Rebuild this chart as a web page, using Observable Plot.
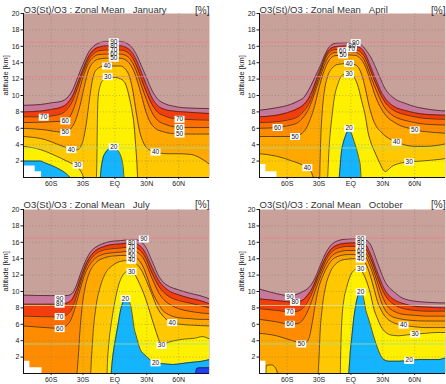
<!DOCTYPE html>
<html><head><meta charset="utf-8">
<script src="https://cdn.jsdelivr.net/npm/d3@7"></script>
<script src="https://cdn.jsdelivr.net/npm/@observablehq/plot@0.6"></script>
<style>
body{margin:0;background:#fff;width:446px;height:384px;position:relative;overflow:hidden;font-family:"Liberation Sans",Arial,sans-serif}
.panel{position:absolute;width:223px;height:192px}
</style></head><body>
<div id="p0" class="panel" style="left:0;top:0"></div>
<div id="p1" class="panel" style="left:223px;top:0"></div>
<div id="p2" class="panel" style="left:0;top:192px"></div>
<div id="p3" class="panel" style="left:223px;top:192px"></div>
<script>
// ---- axes / categories ----
const latTicks = [-60, -30, 0, 30, 60];
const latTickLabels = ["60S", "30S", "EQ", "30N", "60N"];
const altTicks = [2, 4, 6, 8, 10, 12, 14, 16, 18, 20];
const levelValues = [90, 80, 70, 60, 50, 40, 30, 20, 10];
const bandColors = ["#c8789b", "#f53c0c", "#ff6e00", "#ff8c00", "#ffa800", "#ffc800", "#fff000", "#14b4ff", "#1e40ff"];
const topColor = "#c9a19b";
const monthNames = ["January", "April", "July", "October"];

// ---- contour altitudes [latitude, km] : January ----
const jan90 = [[-86,8.8],[-70,8.9],[-60,9.1],[-50,9.3],[-45,9.7],[-40,10.6],[-35,12.2],[-30,13.8],[-25,15.2],[-20,16.0],[-15,16.4],[-8,16.6],[5,16.6],[12,16.3],[17,15.7],[21,14.8],[25,13.6],[30,12.1],[35,10.6],[40,9.6],[47,9.0],[55,8.7],[65,8.5],[89,8.4]];
const jan80 = [[-86,8.0],[-70,8.1],[-60,8.3],[-50,8.6],[-45,9.0],[-40,9.9],[-35,11.5],[-30,13.2],[-25,14.7],[-20,15.55],[-15,15.9],[-8,16.05],[5,16.05],[12,15.75],[17,15.1],[21,14.1],[25,12.8],[30,11.2],[35,9.7],[40,8.8],[47,8.3],[55,8.1],[65,8.0],[89,7.8]];
const jan70 = [[-86,7.4],[-68,7.4],[-60,7.5],[-50,7.8],[-45,8.3],[-40,9.3],[-35,11.0],[-30,12.8],[-25,14.3],[-20,15.1],[-15,15.45],[-8,15.55],[5,15.55],[12,15.25],[17,14.5],[21,13.4],[25,12.0],[30,10.3],[35,8.9],[40,8.0],[47,7.5],[55,7.2],[65,7.1],[89,7.0]];
const jan60 = [[-86,6.7],[-60,6.8],[-47,6.9],[-42,7.5],[-38,8.7],[-34,10.4],[-30,12.2],[-25,13.9],[-20,14.7],[-15,15.0],[-8,15.05],[5,15.05],[12,14.75],[17,13.9],[21,12.7],[25,11.2],[30,9.4],[35,7.9],[40,7.0],[47,6.5],[55,6.2],[65,6.1],[89,6.1]];
const jan50 = [[-86,6.0],[-65,5.8],[-55,5.6],[-47,5.5],[-42,5.9],[-37,7.0],[-33,8.7],[-29,11.0],[-25,13.0],[-20,14.1],[-15,14.45],[-8,14.55],[5,14.55],[12,14.15],[17,13.2],[21,11.8],[25,10.0],[29,8.1],[33,6.8],[38,6.0],[45,5.6],[55,5.35],[65,5.3],[89,5.3]];
const jan40 = [[-86,5.0],[-65,4.6],[-55,4.1],[-45,3.6],[-40,3.3],[-35,3.4],[-30,4.5],[-27,6.5],[-24,9.5],[-21,12.0],[-17,13.2],[-10,13.6],[5,13.6],[10,13.2],[14,12.2],[17,10.5],[20,8.0],[23,5.8],[27,4.2],[32,3.4],[38,3.1],[50,2.9],[60,2.9],[72,2.8],[80,2.4],[86,1.9],[89,1.6]];
const jan30 = [[-86,3.8],[-70,3.4],[-60,2.9],[-50,2.3],[-42,1.8],[-35,1.3],[-31,0.5],[-29,0],[-17.5,0],[-17,2],[-16.6,6],[-16,9.4],[-14.3,11.0],[-11,11.9],[-5,12.2],[0,12.2],[4,12.1],[7,11.9],[10,11.4],[12,10.6],[14,9.5],[16,8.2],[18,6.4],[19.5,4.0],[20.7,1.8],[21.5,0],[89,0]];
const jan20a = [[-86,2.0],[-70,2.0],[-66,1.8],[-60,1.5],[-52,1.0],[-46,0.5],[-42,0]];
const jan20b = [[-13.7,0],[-13,1.0],[-11.5,2.2],[-9,3.0],[-6,3.45],[-3,3.65],[0,3.55],[3,3.25],[5,2.8],[7,1.9],[8,1.0],[8.5,0]];
const janGround = [[-86,1.4],[-75,0.7],[-69,0]];
const janLabels = [[-67,7.35,"70"],[-46.7,6.9,"60"],[-46.7,5.5,"50"],[-41,3.4,"40"],[-35,1.5,"30"],[60.8,7.1,"70"],[60.8,6.1,"60"],[60.8,5.3,"50"],[38.2,3.1,"40"],[-1.1,14.55,"50"],[-1.1,15.05,"60"],[-1.1,15.55,"70"],[-1.1,16.05,"80"],[-1.1,16.55,"90"],[-7.4,13.6,"40"],[-6.8,12.3,"30"],[-1.1,3.75,"20"]];

// ---- April ----
const apr90 = [[-86,8.2],[-70,8.5],[-57,8.9],[-50,9.3],[-44,9.8],[-40,10.6],[-35,11.9],[-31,13.0],[-28.5,13.7],[-24,15.1],[-19,16.1],[-13,16.4],[3,16.45],[8,16.3],[12,15.9],[15,15.4],[18.6,14.7],[22,13.8],[25,12.9],[28,12.0],[31,11.1],[34,10.5],[37.5,10.0],[43.7,9.4],[50,9.1],[56,8.8],[69,8.4],[89,8.1]];
const apr80 = [[-86,7.4],[-70,7.6],[-60,7.9],[-50,8.4],[-45,8.8],[-40,9.6],[-36,10.7],[-32,12.1],[-28,13.4],[-24,14.8],[-20,15.6],[-15,15.95],[-5,16.05],[4,16.0],[9,15.8],[13,15.2],[16,14.4],[19,13.4],[22,12.4],[25,11.5],[28,10.6],[32,9.7],[37,9.0],[43,8.5],[50,8.2],[60,7.9],[70,7.7],[89,7.6]];
const apr70 = [[-86,6.7],[-70,6.8],[-60,7.0],[-50,7.4],[-45,8.0],[-40,8.9],[-36,10.1],[-32,11.6],[-28,13.1],[-24,14.5],[-20,15.3],[-15,15.6],[-5,15.65],[4,15.6],[9,15.3],[13,14.7],[16,13.9],[19,12.9],[22,11.9],[25,11.0],[28,10.1],[32,9.2],[37,8.5],[43,8.0],[50,7.7],[60,7.4],[70,7.2],[89,7.1]];
const apr60 = [[-86,6.0],[-69,6.1],[-60,6.3],[-50,6.7],[-45,7.3],[-40,8.3],[-36,9.6],[-32,11.1],[-28,12.6],[-24,14.0],[-20,14.9],[-15,15.25],[-5,15.3],[4,15.25],[9,14.9],[13,14.2],[16,13.3],[19,12.2],[22,11.2],[25,10.3],[28,9.4],[32,8.5],[37,7.8],[43,7.3],[50,7.0],[60,6.7],[70,6.5],[89,6.4]];
const apr50 = [[-86,5.0],[-65,5.0],[-53,5.0],[-47,5.3],[-42,6.0],[-38,7.2],[-34,8.8],[-31,10.4],[-28,11.9],[-24,13.4],[-20,14.4],[-15,14.85],[-5,14.95],[4,14.9],[9,14.5],[13,13.7],[16,12.7],[19,11.5],[22,10.3],[25,9.3],[29,8.3],[34,7.4],[40,6.8],[47,6.3],[55,6.0],[60,5.8],[70,5.6],[89,5.4]];
const apr40 = [[-86,2.9],[-70,2.6],[-55,2.0],[-45,1.5],[-41,1.2],[-37,0.6],[-35,0],[-29.5,0],[-29,2],[-28.3,5],[-27,8],[-25,10.5],[-22,12.3],[-18,13.3],[-12,13.8],[-3,13.9],[4,13.75],[8,13.2],[11,12.2],[14,10.6],[17,8.8],[20,7.4],[24,6.2],[28,5.6],[33,5.0],[38,4.6],[43,4.3],[50,4.0],[60,3.8],[70,3.8],[80,3.9],[89,4.1]];
const apr30 = [[-86,0],[-22,0],[-21.5,1],[-20.8,3],[-19.5,5.4],[-17.8,7.5],[-16,9.4],[-12,11.5],[-8,12.5],[-3,12.6],[1,12.5],[4,12.0],[6,11.4],[8,10.5],[10,9.4],[12,8.4],[14,7.2],[16,5.6],[19,4.2],[21.8,3.3],[24.5,2.5],[27.4,1.7],[30.5,0.9],[32.5,0.75],[35,0.95],[38,1.3],[45,1.7],[55,1.9],[65,2.0],[75,2.1],[89,2.3]];
const apr20 = [[-11,0],[-10,1.5],[-9,3],[-7,4.3],[-5,5.1],[-2,5.8],[1,5.2],[3,4.4],[5,3.6],[7,2.6],[9,1.2],[9.5,0]];
const aprGround = [[-86,1.6],[-80,0.7],[-69.5,0]];
const aprLabels = [[-69,6.1,"60"],[-52.6,5.0,"50"],[-41,1.2,"40"],[60,5.8,"50"],[43,4.3,"40"],[54.8,1.9,"30"],[-7.4,14.95,"50"],[1,16.0,"80"],[-8,15.45,"60"],[0.5,15.7,"70"],[4.5,16.45,"90"],[-1.8,13.9,"40"],[-1.8,12.6,"30"],[-1.8,6.0,"20"]];

// ---- July ----
const jul90 = [[-86,9.55],[-60,9.5],[-45,9.5],[-40,9.8],[-36,10.8],[-32,12.3],[-28,13.6],[-23,14.8],[-18,15.4],[-12,15.8],[-4,16.1],[5,16.2],[12,16.3],[18,16.35],[23,16.2],[27,15.8],[30,15.2],[33,14.3],[37,13.1],[40,12.2],[45,11.2],[50,10.7],[60,10.2],[70,9.8],[80,9.5],[89,9.1]];
const jul80 = [[-86,8.45],[-52,8.45],[-45,8.6],[-40,9.1],[-36,10.2],[-32,11.7],[-28,13.1],[-23,14.3],[-18,15.0],[-12,15.4],[-4,15.7],[5,15.8],[12,15.9],[18,15.9],[23,15.6],[27,15.1],[30,14.4],[33,13.5],[37,12.4],[41,11.4],[46,10.6],[52,10.0],[60,9.6],[70,9.2],[80,8.9],[89,8.5]];
const jul70 = [[-86,7.0],[-52,6.9],[-45,7.2],[-40,8.0],[-36,9.5],[-32,11.2],[-28,12.7],[-23,13.9],[-18,14.6],[-12,15.0],[-4,15.2],[5,15.3],[12,15.4],[18,15.4],[23,15.1],[27,14.5],[30,13.8],[33,12.8],[37,11.7],[41,10.7],[46,9.9],[52,9.3],[60,8.9],[70,8.6],[80,8.3],[89,8.0]];
const jul60 = [[-86,5.8],[-65,5.6],[-52,5.5],[-45,5.9],[-40,7.0],[-36,8.7],[-32,10.6],[-28,12.2],[-23,13.4],[-18,14.1],[-12,14.5],[-4,14.7],[5,14.8],[12,14.9],[18,14.9],[23,14.6],[27,14.0],[30,13.2],[33,12.2],[37,11.0],[41,9.9],[46,9.0],[52,8.4],[60,7.9],[70,7.6],[80,7.4],[89,7.3]];
const jul50 = [[-86,0],[-36,0],[-34.5,2],[-33,5],[-31,8],[-28,10.5],[-24,12.3],[-18,13.5],[-10,14.1],[0,14.35],[10,14.4],[16,14.4],[22,13.9],[27,12.9],[31,11.5],[35,10.0],[40,8.7],[45,7.7],[52,7.1],[60,6.8],[70,6.7],[80,6.6],[89,6.6]];
const jul40 = [[-86,0],[-23,0],[-22,2],[-20.5,5],[-18,8],[-14,10.5],[-9,12.2],[-2,13.2],[6,13.7],[14,13.8],[20,13.4],[25,12.6],[30,11.2],[35,9.6],[40,8.0],[46,6.9],[54,6.2],[62,6.0],[72,5.9],[89,5.8]];
const jul30 = [[-86,0],[-7.5,0],[-7,1.5],[-5.5,4],[-3,6.5],[0,8.8],[3.5,10.8],[7,11.9],[11,12.4],[15,12.4],[19,12.0],[23,11.0],[27,9.8],[31,8.3],[35,6.6],[39,5.0],[42,3.9],[45,3.5],[50,3.8],[56,4.0],[65,4.2],[75,4.3],[82,4.5],[89,4.2]];
const jul20 = [[-3.5,0],[-2.5,1.5],[-1,3],[1,4.5],[3,6],[5,7.5],[7,8.5],[10,9.0],[13,8.8],[15,8.2],[16.5,7],[18,5.6],[20,4.6],[24,2.9],[28,2.3],[32,1.8],[37,1.3],[45,1.2],[55,1.1],[65,1.25],[75,1.4],[82,1.5],[89,1.7]];
const jul10 = [[76,0],[77,0.6],[80,0.7],[89,0.7]];
const julGround = [[-86,1.5],[-80,0.7],[-68.6,0]];
const julLabels = [[-52,9.14,"90"],[-52,8.45,"80"],[-52,6.94,"70"],[-52,5.47,"60"],[53.9,6.2,"40"],[43.8,3.43,"30"],[38.2,1.3,"20"],[15.6,14.4,"50"],[15.6,14.9,"60"],[15.6,15.4,"70"],[15.6,15.9,"80"],[27.2,16.4,"90"],[15.6,13.8,"40"],[15.6,12.45,"30"],[9.9,9.14,"20"]];

// ---- October ----
const oct90 = [[-86,10.3],[-75,9.9],[-65,9.6],[-57,9.45],[-50,9.7],[-45,10.0],[-41,10.3],[-35,11.3],[-31.5,12.3],[-28.5,13.3],[-24,14.6],[-19,15.6],[-12,16.2],[-3,16.4],[9,16.45],[15,16.2],[19,15.6],[22,14.6],[25,13.5],[28,12.5],[31,11.5],[34,10.8],[37.5,10.3],[42,9.8],[47,9.3],[56,8.9],[70,8.7],[89,8.6]];
const oct80 = [[-86,9.1],[-70,8.9],[-53,8.7],[-46,8.9],[-41,9.5],[-36,10.5],[-32,11.7],[-28.5,12.8],[-24,14.1],[-19,15.1],[-12,15.7],[-3,15.9],[9,15.95],[14,15.7],[17,15.0],[20,14.1],[23,13.0],[26,12.0],[29,11.0],[32,10.2],[36,9.5],[42,8.9],[50,8.5],[60,8.2],[70,8.1],[89,8.0]];
const oct70 = [[-86,7.9],[-70,7.7],[-57,7.5],[-50,7.6],[-45,8.0],[-40,8.9],[-36,10.0],[-32,11.3],[-28,12.5],[-24,13.7],[-19,14.7],[-12,15.3],[-3,15.5],[9,15.5],[14,15.2],[17,14.5],[20,13.6],[23,12.5],[26,11.4],[29,10.4],[32,9.6],[36,8.9],[42,8.3],[50,7.9],[60,7.7],[70,7.6],[89,7.6]];
const oct60 = [[-86,6.6],[-70,6.3],[-57,6.0],[-50,6.1],[-45,6.6],[-40,7.8],[-36,9.2],[-32,10.7],[-28,12.0],[-24,13.2],[-19,14.2],[-12,14.8],[-3,15.0],[9,15.0],[14,14.7],[17,14.0],[20,13.0],[23,11.9],[26,10.7],[29,9.6],[32,8.7],[36,8.0],[42,7.5],[50,7.2],[60,7.1],[70,7.0],[89,7.0]];
const oct50 = [[-86,4.9],[-70,4.6],[-60,4.2],[-50,3.8],[-46,3.6],[-42,3.8],[-39,4.5],[-36,6.5],[-33,8.8],[-30,10.6],[-26,12.0],[-21,13.3],[-14,14.2],[-3,14.5],[9,14.5],[14,14.2],[17,13.4],[20,12.4],[23,11.2],[26,9.8],[29,8.6],[33,7.6],[38,7.0],[45,6.7],[55,6.5],[70,6.4],[89,6.4]];
const oct40 = [[-86,0],[-31,0],[-30,2],[-29,5],[-27,8],[-24,10.5],[-20,12.2],[-14,13.4],[-6,13.9],[3,14.0],[9,14.0],[13,13.6],[16,12.8],[19,11.6],[22,10.2],[25,8.8],[29,7.6],[34,6.7],[40,6.2],[49.5,5.9],[60,5.7],[70,5.6],[80,5.6],[89,5.6]];
const oct40b = [[-80,0],[-79.6,1.0],[-75,1.05],[-71,0.7],[-69,0]];
const oct30 = [[-86,0],[-10,0],[-9.7,2],[-9.2,4.5],[-8.5,6.5],[-6.5,9.1],[-4,10.5],[-1.8,11.5],[1,12.3],[4,12.7],[6,12.8],[10,12.5],[14,11.5],[18,9.9],[21.8,7.8],[25,6.7],[28,5.8],[33,5.0],[37.5,4.7],[45,4.6],[52,4.7],[60.4,4.8],[70,4.9],[80,5.0],[89,5.0]];
const oct20 = [[-2,0],[-1.2,1.5],[-0.5,2.8],[0.5,4],[1.3,5.0],[2.5,6.5],[3.9,7.8],[6,9.2],[9,9.9],[11,9.6],[12.5,8.8],[13.9,7.8],[16.3,6.8],[18.6,5.8],[21,4.7],[23.3,3.75],[26,2.8],[28,2.2],[31,1.7],[36,1.5],[45,1.5],[54.8,1.6],[65,1.7],[75,1.7],[82,1.7],[89,1.9]];
const octGround = [[-86,1.5],[-80,0]];
const octLabels = [[-57.4,9.4,"90"],[-52.6,8.7,"80"],[-57.4,7.5,"70"],[-57.4,6.0,"60"],[-46.7,3.6,"50"],[49.5,5.9,"40"],[60.4,4.8,"30"],[54.8,1.6,"20"],[9.2,14.5,"50"],[9.2,15.0,"60"],[9.2,15.45,"70"],[9.2,15.9,"80"],[9.2,16.4,"90"],[9.2,13.95,"40"],[9.2,12.8,"30"],[9.2,9.96,"20"]];

// ---- assemble panels ----
const panels = [
  {id:"p0", month:monthNames[0], left:true, top:true, ground:janGround, labels:janLabels,
   contours:[[90,jan90],[80,jan80],[70,jan70],[60,jan60],[50,jan50],[40,jan40],[30,jan30],[20,jan20a],[20,jan20b]]},
  {id:"p1", month:monthNames[1], left:false, top:true, ground:aprGround, labels:aprLabels,
   contours:[[90,apr90],[80,apr80],[70,apr70],[60,apr60],[50,apr50],[40,apr40],[30,apr30],[20,apr20]]},
  {id:"p2", month:monthNames[2], left:true, top:false, ground:julGround, labels:julLabels,
   contours:[[90,jul90],[80,jul80],[70,jul70],[60,jul60],[50,jul50],[40,jul40],[30,jul30],[20,jul20],[10,jul10]]},
  {id:"p3", month:monthNames[3], left:false, top:false, ground:octGround, labels:octLabels,
   contours:[[90,oct90],[80,oct80],[70,oct70],[60,oct60],[50,oct50],[40,oct40],[40,oct40b],[30,oct30],[20,oct20]]}
];

const boxSymbol = {draw(ctx){ ctx.rect(-5, -3.5, 10, 7); }};
const xy = {x: d => d[0], y: d => d[1]};

function drawPanel(p) {
  const mL = p.left ? 23 : 36, mR = p.left ? 14 : 1;
  const mT = p.top ? 13 : 17, mB = p.top ? 15 : 11;
  const marks = [Plot.frame({fill: topColor, stroke: "none"})];
  for (const lv of levelValues) {
    for (const [L, pts] of p.contours) {
      if (L !== lv) continue;
      marks.push(Plot.areaY(pts, {...xy, fill: bandColors[levelValues.indexOf(L)], curve: "monotone-x", clip: "frame"}));
    }
  }
  for (const [L, pts] of p.contours) {
    marks.push(Plot.line(pts, {...xy, stroke: "#2e1f16", strokeWidth: 0.8, strokeOpacity: 0.9, curve: "monotone-x", clip: "frame"}));
  }
  marks.push(Plot.areaY(p.ground, {...xy, fill: "white", curve: "step-after", clip: "frame"}));
  const refs = p.top ? [[16.5, "#e8808c"], [12.3, "#e8808c"], [3.6, "#9be39b"]]
                     : [[16.5, "#e8808c"], [8.3, "#cfe8a0"], [3.6, "#9be39b"]];
  for (const [v, c] of refs) marks.push(Plot.ruleY([v], {stroke: c, strokeWidth: 1, strokeOpacity: 0.75}));
  marks.push(Plot.ruleX(latTicks, {stroke: "#777", strokeDasharray: "1,2.2", strokeOpacity: 0.6, strokeWidth: 0.8}));
  marks.push(Plot.ruleY(altTicks.slice(0, -1), {stroke: "#777", strokeDasharray: "1,2.2", strokeOpacity: 0.6, strokeWidth: 0.8}));
  marks.push(Plot.dot(p.labels, {...xy, symbol: boxSymbol, r: 4, fill: "white", stroke: "none"}));
  marks.push(Plot.text(p.labels, {...xy, text: d => d[2], fontSize: 6.5, fill: "#111"}));
  marks.push(Plot.ruleX([-86], {stroke: "#111", strokeWidth: 1}));
  marks.push(Plot.ruleY([0], {stroke: "#111", strokeWidth: 1}));
  marks.push(Plot.axisY({ticks: altTicks, tickSize: 2.5, tickPadding: 1.5, fontSize: 7, label: null}));
  marks.push(Plot.axisX({ticks: latTicks, tickFormat: d => latTickLabels[latTicks.indexOf(d)], tickSize: 2, tickPadding: 1.5, fontSize: 7, label: null}));
  const tdy = p.top ? -7 : -8.7;
  marks.push(Plot.text([`O3(St)/O3 : Zonal Mean\u00a0\u00a0\u00a0${p.month}`], {text: d => d, frameAnchor: "top-left", textAnchor: "start", dy: tdy, fontSize: 9.5, fill: "#333"}));
  marks.push(Plot.text(["[%]"], {text: d => d, frameAnchor: "top-right", textAnchor: "end", dy: tdy, fontSize: 10, fill: "#333"}));
  marks.push(Plot.text(["altitude [km]"], {text: d => d, frameAnchor: "left", rotate: -90, dx: -18, fontSize: 7.5, fill: "#222"}));

  const svg = Plot.plot({
    width: 223, height: 192,
    marginLeft: mL, marginRight: mR, marginTop: mT, marginBottom: mB,
    x: {domain: [-86, 89]},
    y: {domain: [0, 20]},
    style: {fontFamily: "'Liberation Sans', Arial, sans-serif", color: "#222", background: "transparent", overflow: "visible"},
    marks
  });
  document.getElementById(p.id).appendChild(svg);
}
panels.forEach(drawPanel);
</script>
</body></html>
